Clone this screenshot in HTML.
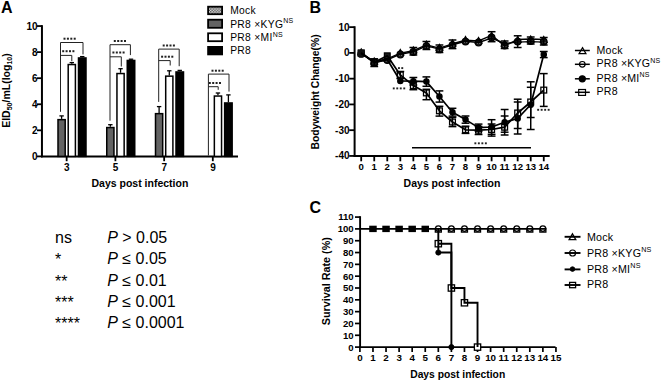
<!DOCTYPE html>
<html><head><meta charset="utf-8"><style>
html,body{margin:0;padding:0;background:#fff;overflow:hidden;}
svg{display:block;}
text{font-family:"Liberation Sans",sans-serif;fill:#000;}
</style></head><body>
<svg width="661" height="382" viewBox="0 0 661 382">
<text x="1" y="12.6" font-size="16" font-weight="bold">A</text>
<line x1="41.95" y1="25.15" x2="41.95" y2="157.3" stroke="#000" stroke-width="2"/>
<line x1="37" y1="156.4" x2="42" y2="156.4" stroke="#000" stroke-width="1.8"/>
<text x="37.5" y="159.9" font-size="10" font-weight="bold" text-anchor="end">0</text>
<line x1="37" y1="130.33" x2="42" y2="130.33" stroke="#000" stroke-width="1.8"/>
<text x="37.5" y="133.83" font-size="10" font-weight="bold" text-anchor="end">2</text>
<line x1="37" y1="104.26" x2="42" y2="104.26" stroke="#000" stroke-width="1.8"/>
<text x="37.5" y="107.76" font-size="10" font-weight="bold" text-anchor="end">4</text>
<line x1="37" y1="78.19" x2="42" y2="78.19" stroke="#000" stroke-width="1.8"/>
<text x="37.5" y="81.69" font-size="10" font-weight="bold" text-anchor="end">6</text>
<line x1="37" y1="52.12" x2="42" y2="52.12" stroke="#000" stroke-width="1.8"/>
<text x="37.5" y="55.62" font-size="10" font-weight="bold" text-anchor="end">8</text>
<line x1="37" y1="26.05" x2="42" y2="26.05" stroke="#000" stroke-width="1.8"/>
<text x="37.5" y="29.55" font-size="10" font-weight="bold" text-anchor="end">10</text>
<line x1="41.1" y1="156.4" x2="238" y2="156.4" stroke="#000" stroke-width="2"/>
<line x1="66.65" y1="156.4" x2="66.65" y2="161.2" stroke="#000" stroke-width="1.8"/>
<text x="66.85" y="170.9" font-size="10" font-weight="bold" text-anchor="middle">3</text>
<line x1="115.4" y1="156.4" x2="115.4" y2="161.2" stroke="#000" stroke-width="1.8"/>
<text x="115.6" y="170.9" font-size="10" font-weight="bold" text-anchor="middle">5</text>
<line x1="164.15" y1="156.4" x2="164.15" y2="161.2" stroke="#000" stroke-width="1.8"/>
<text x="164.35" y="170.9" font-size="10" font-weight="bold" text-anchor="middle">7</text>
<line x1="212.8" y1="156.4" x2="212.8" y2="161.2" stroke="#000" stroke-width="1.8"/>
<text x="213" y="170.9" font-size="10" font-weight="bold" text-anchor="middle">9</text>
<text x="139.9" y="186.7" font-size="10.5" font-weight="bold" text-anchor="middle">Days post infection</text>
<text transform="translate(9.6,127.8) rotate(-90)" font-size="10.5" font-weight="bold">EID<tspan font-size="7" dy="2.5">50</tspan><tspan dy="-2.5">/mL(log</tspan><tspan font-size="7" dy="2.5">10</tspan><tspan dy="-2.5">)</tspan></text>
<line x1="61.6" y1="118.9" x2="61.6" y2="115.9" stroke="#000" stroke-width="1.3"/>
<line x1="59.4" y1="115.9" x2="63.8" y2="115.9" stroke="#000" stroke-width="1.3"/>
<rect x="58" y="119.65" width="7.2" height="36.75" fill="#636363" stroke="#000" stroke-width="1.5"/>
<line x1="71.8" y1="63.8" x2="71.8" y2="62.6" stroke="#000" stroke-width="1.3"/>
<line x1="69.6" y1="62.6" x2="74" y2="62.6" stroke="#000" stroke-width="1.3"/>
<rect x="68.2" y="64.55" width="7.2" height="91.85" fill="#fff" stroke="#000" stroke-width="1.5"/>
<line x1="82.25" y1="57.2" x2="82.25" y2="56.6" stroke="#000" stroke-width="1.3"/>
<line x1="80.05" y1="56.6" x2="84.45" y2="56.6" stroke="#000" stroke-width="1.3"/>
<rect x="78.5" y="57.95" width="7.5" height="98.45" fill="#000" stroke="#000" stroke-width="1.5"/>
<line x1="110.35" y1="126.8" x2="110.35" y2="124.7" stroke="#000" stroke-width="1.3"/>
<line x1="108.15" y1="124.7" x2="112.55" y2="124.7" stroke="#000" stroke-width="1.3"/>
<rect x="106.75" y="127.55" width="7.2" height="28.85" fill="#636363" stroke="#000" stroke-width="1.5"/>
<line x1="120.55" y1="72.8" x2="120.55" y2="68.7" stroke="#000" stroke-width="1.3"/>
<line x1="118.35" y1="68.7" x2="122.75" y2="68.7" stroke="#000" stroke-width="1.3"/>
<rect x="116.95" y="73.55" width="7.2" height="82.85" fill="#fff" stroke="#000" stroke-width="1.5"/>
<line x1="131" y1="59.7" x2="131" y2="59.2" stroke="#000" stroke-width="1.3"/>
<line x1="128.8" y1="59.2" x2="133.2" y2="59.2" stroke="#000" stroke-width="1.3"/>
<rect x="127.25" y="60.45" width="7.5" height="95.95" fill="#000" stroke="#000" stroke-width="1.5"/>
<line x1="159.1" y1="112.9" x2="159.1" y2="106.6" stroke="#000" stroke-width="1.3"/>
<line x1="156.9" y1="106.6" x2="161.3" y2="106.6" stroke="#000" stroke-width="1.3"/>
<rect x="155.5" y="113.65" width="7.2" height="42.75" fill="#636363" stroke="#000" stroke-width="1.5"/>
<line x1="169.3" y1="75.4" x2="169.3" y2="70.8" stroke="#000" stroke-width="1.3"/>
<line x1="167.1" y1="70.8" x2="171.5" y2="70.8" stroke="#000" stroke-width="1.3"/>
<rect x="165.7" y="76.15" width="7.2" height="80.25" fill="#fff" stroke="#000" stroke-width="1.5"/>
<line x1="179.75" y1="71.2" x2="179.75" y2="70.4" stroke="#000" stroke-width="1.3"/>
<line x1="177.55" y1="70.4" x2="181.95" y2="70.4" stroke="#000" stroke-width="1.3"/>
<rect x="176" y="71.95" width="7.5" height="84.45" fill="#000" stroke="#000" stroke-width="1.5"/>
<line x1="217.95" y1="95.3" x2="217.95" y2="93" stroke="#000" stroke-width="1.3"/>
<line x1="215.75" y1="93" x2="220.15" y2="93" stroke="#000" stroke-width="1.3"/>
<rect x="214.35" y="96.05" width="7.2" height="60.35" fill="#fff" stroke="#000" stroke-width="1.5"/>
<line x1="228.4" y1="102.2" x2="228.4" y2="94.9" stroke="#000" stroke-width="1.3"/>
<line x1="226.2" y1="94.9" x2="230.6" y2="94.9" stroke="#000" stroke-width="1.3"/>
<rect x="224.65" y="102.95" width="7.5" height="53.45" fill="#000" stroke="#000" stroke-width="1.5"/>
<path d="M60.5 111.8V42.5H83V54.4M60.5 55.4H71.8V61.2" fill="none" stroke="#222" stroke-width="1"/>
<rect x="63.5" y="37.7" width="2" height="2" fill="#222"/>
<rect x="66.9" y="37.7" width="2" height="2" fill="#222"/>
<rect x="70.3" y="37.7" width="2" height="2" fill="#222"/>
<rect x="73.7" y="37.7" width="2" height="2" fill="#222"/>
<rect x="62.2" y="50.2" width="2" height="2" fill="#222"/>
<rect x="65.6" y="50.2" width="2" height="2" fill="#222"/>
<rect x="69" y="50.2" width="2" height="2" fill="#222"/>
<rect x="72.4" y="50.2" width="2" height="2" fill="#222"/>
<path d="M110 120.7V44.7H130.4V55.1M110 56.8H121.3V66.5" fill="none" stroke="#222" stroke-width="1"/>
<rect x="113.8" y="40" width="2" height="2" fill="#222"/>
<rect x="117.2" y="40" width="2" height="2" fill="#222"/>
<rect x="120.6" y="40" width="2" height="2" fill="#222"/>
<rect x="124" y="40" width="2" height="2" fill="#222"/>
<rect x="112.4" y="51.5" width="2" height="2" fill="#222"/>
<rect x="115.8" y="51.5" width="2" height="2" fill="#222"/>
<rect x="119.2" y="51.5" width="2" height="2" fill="#222"/>
<rect x="122.6" y="51.5" width="2" height="2" fill="#222"/>
<path d="M158.7 101.9V49.1H179.2V66.2M158.7 60.6H170.2V65.5" fill="none" stroke="#222" stroke-width="1"/>
<rect x="162.7" y="44.5" width="2" height="2" fill="#222"/>
<rect x="166.1" y="44.5" width="2" height="2" fill="#222"/>
<rect x="169.5" y="44.5" width="2" height="2" fill="#222"/>
<rect x="172.9" y="44.5" width="2" height="2" fill="#222"/>
<rect x="161.1" y="55.7" width="2" height="2" fill="#222"/>
<rect x="164.5" y="55.7" width="2" height="2" fill="#222"/>
<rect x="167.9" y="55.7" width="2" height="2" fill="#222"/>
<rect x="171.3" y="55.7" width="2" height="2" fill="#222"/>
<path d="M208.4 155.5V74.1H229V91.6M208.4 86.7H218.2V89.8" fill="none" stroke="#222" stroke-width="1"/>
<rect x="211.5" y="69.7" width="2" height="2" fill="#222"/>
<rect x="214.9" y="69.7" width="2" height="2" fill="#222"/>
<rect x="218.3" y="69.7" width="2" height="2" fill="#222"/>
<rect x="221.7" y="69.7" width="2" height="2" fill="#222"/>
<rect x="208.8" y="82" width="2" height="2" fill="#222"/>
<rect x="212.2" y="82" width="2" height="2" fill="#222"/>
<rect x="215.6" y="82" width="2" height="2" fill="#222"/>
<rect x="219" y="82" width="2" height="2" fill="#222"/>
<defs><pattern id="chk" width="2.8" height="2.8" patternUnits="userSpaceOnUse"><rect width="2.8" height="2.8" fill="#eee"/><rect width="1.4" height="1.4" fill="#444"/><rect x="1.4" y="1.4" width="1.4" height="1.4" fill="#444"/></pattern></defs>
<rect x="208.1" y="6.7" width="14" height="7.5" fill="url(#chk)" stroke="#000" stroke-width="1.8"/>
<text x="230.2" y="13.9" font-size="10.3" letter-spacing="0.3" fill="#1a1a1a">Mock</text>
<rect x="208.1" y="19.7" width="14" height="8.1" fill="#636363" stroke="#000" stroke-width="1.8"/>
<text x="230.2" y="27.5" font-size="10.3" letter-spacing="0.3" fill="#1a1a1a">PR8 ×KYG<tspan font-size="7" dy="-4.4">NS</tspan></text>
<rect x="208.1" y="33.3" width="14" height="7.9" fill="#fff" stroke="#000" stroke-width="1.8"/>
<text x="230.2" y="40.9" font-size="10.3" letter-spacing="0.3" fill="#1a1a1a">PR8 ×MI<tspan font-size="7" dy="-4.4">NS</tspan></text>
<rect x="208.1" y="46.9" width="14" height="7.5" fill="#000" stroke="#000" stroke-width="1.8"/>
<text x="230.2" y="54.1" font-size="10.3" letter-spacing="0.3" fill="#1a1a1a">PR8</text>
<text x="55" y="243.3" font-size="16">ns</text>
<text x="107.2" y="243.3" font-size="16"><tspan font-style="italic">P</tspan> &gt; 0.05</text>
<text x="55" y="265.2" font-size="16">*</text>
<text x="107.2" y="264.3" font-size="16"><tspan font-style="italic">P</tspan> ≤ 0.05</text>
<text x="55" y="287" font-size="16">**</text>
<text x="107.2" y="286.1" font-size="16"><tspan font-style="italic">P</tspan> ≤ 0.01</text>
<text x="55" y="307.9" font-size="16">***</text>
<text x="107.2" y="307" font-size="16"><tspan font-style="italic">P</tspan> ≤ 0.001</text>
<text x="55" y="329.3" font-size="16">****</text>
<text x="107.2" y="328.4" font-size="16"><tspan font-style="italic">P</tspan> ≤ 0.0001</text>
<text x="309.5" y="12.6" font-size="16" font-weight="bold">B</text>
<line x1="354.6" y1="26.24" x2="354.6" y2="156.84" stroke="#000" stroke-width="2"/>
<line x1="349.2" y1="27.14" x2="354.6" y2="27.14" stroke="#000" stroke-width="1.8"/>
<text x="349.5" y="30.64" font-size="10" font-weight="bold" text-anchor="end">10</text>
<line x1="349.2" y1="52.9" x2="354.6" y2="52.9" stroke="#000" stroke-width="1.8"/>
<text x="349.5" y="56.4" font-size="10" font-weight="bold" text-anchor="end">0</text>
<line x1="349.2" y1="78.66" x2="354.6" y2="78.66" stroke="#000" stroke-width="1.8"/>
<text x="349.5" y="82.16" font-size="10" font-weight="bold" text-anchor="end">-10</text>
<line x1="349.2" y1="104.42" x2="354.6" y2="104.42" stroke="#000" stroke-width="1.8"/>
<text x="349.5" y="107.92" font-size="10" font-weight="bold" text-anchor="end">-20</text>
<line x1="349.2" y1="130.18" x2="354.6" y2="130.18" stroke="#000" stroke-width="1.8"/>
<text x="349.5" y="133.68" font-size="10" font-weight="bold" text-anchor="end">-30</text>
<line x1="349.2" y1="155.94" x2="354.6" y2="155.94" stroke="#000" stroke-width="1.8"/>
<text x="349.5" y="159.44" font-size="10" font-weight="bold" text-anchor="end">-40</text>
<line x1="353.6" y1="155.94" x2="549.7" y2="155.94" stroke="#000" stroke-width="2"/>
<line x1="361.2" y1="155.94" x2="361.2" y2="161.3" stroke="#000" stroke-width="1.8"/>
<text x="361.2" y="170.4" font-size="9.6" font-weight="bold" text-anchor="middle">0</text>
<line x1="374.24" y1="155.94" x2="374.24" y2="161.3" stroke="#000" stroke-width="1.8"/>
<text x="374.24" y="170.4" font-size="9.6" font-weight="bold" text-anchor="middle">1</text>
<line x1="387.28" y1="155.94" x2="387.28" y2="161.3" stroke="#000" stroke-width="1.8"/>
<text x="387.28" y="170.4" font-size="9.6" font-weight="bold" text-anchor="middle">2</text>
<line x1="400.32" y1="155.94" x2="400.32" y2="161.3" stroke="#000" stroke-width="1.8"/>
<text x="400.32" y="170.4" font-size="9.6" font-weight="bold" text-anchor="middle">3</text>
<line x1="413.36" y1="155.94" x2="413.36" y2="161.3" stroke="#000" stroke-width="1.8"/>
<text x="413.36" y="170.4" font-size="9.6" font-weight="bold" text-anchor="middle">4</text>
<line x1="426.4" y1="155.94" x2="426.4" y2="161.3" stroke="#000" stroke-width="1.8"/>
<text x="426.4" y="170.4" font-size="9.6" font-weight="bold" text-anchor="middle">5</text>
<line x1="439.44" y1="155.94" x2="439.44" y2="161.3" stroke="#000" stroke-width="1.8"/>
<text x="439.44" y="170.4" font-size="9.6" font-weight="bold" text-anchor="middle">6</text>
<line x1="452.48" y1="155.94" x2="452.48" y2="161.3" stroke="#000" stroke-width="1.8"/>
<text x="452.48" y="170.4" font-size="9.6" font-weight="bold" text-anchor="middle">7</text>
<line x1="465.52" y1="155.94" x2="465.52" y2="161.3" stroke="#000" stroke-width="1.8"/>
<text x="465.52" y="170.4" font-size="9.6" font-weight="bold" text-anchor="middle">8</text>
<line x1="478.56" y1="155.94" x2="478.56" y2="161.3" stroke="#000" stroke-width="1.8"/>
<text x="478.56" y="170.4" font-size="9.6" font-weight="bold" text-anchor="middle">9</text>
<line x1="491.6" y1="155.94" x2="491.6" y2="161.3" stroke="#000" stroke-width="1.8"/>
<text x="491.6" y="170.4" font-size="9.6" font-weight="bold" text-anchor="middle">10</text>
<line x1="504.64" y1="155.94" x2="504.64" y2="161.3" stroke="#000" stroke-width="1.8"/>
<text x="504.64" y="170.4" font-size="9.6" font-weight="bold" text-anchor="middle">11</text>
<line x1="517.68" y1="155.94" x2="517.68" y2="161.3" stroke="#000" stroke-width="1.8"/>
<text x="517.68" y="170.4" font-size="9.6" font-weight="bold" text-anchor="middle">12</text>
<line x1="530.72" y1="155.94" x2="530.72" y2="161.3" stroke="#000" stroke-width="1.8"/>
<text x="530.72" y="170.4" font-size="9.6" font-weight="bold" text-anchor="middle">13</text>
<line x1="543.76" y1="155.94" x2="543.76" y2="161.3" stroke="#000" stroke-width="1.8"/>
<text x="543.76" y="170.4" font-size="9.6" font-weight="bold" text-anchor="middle">14</text>
<text x="452" y="186.8" font-size="10.5" font-weight="bold" text-anchor="middle">Days post infection</text>
<text transform="translate(319,149.4) rotate(-90)" font-size="10.3" font-weight="bold">Bodyweight Change(%)</text>
<line x1="412" y1="147.8" x2="531" y2="147.8" stroke="#000" stroke-width="1.6"/>
<rect x="474.4" y="142.35" width="1.9" height="1.9" fill="#222"/>
<rect x="477.9" y="142.35" width="1.9" height="1.9" fill="#222"/>
<rect x="481.4" y="142.35" width="1.9" height="1.9" fill="#222"/>
<rect x="484.9" y="142.35" width="1.9" height="1.9" fill="#222"/>
<rect x="398" y="67.15" width="1.9" height="1.9" fill="#222"/>
<rect x="401.3" y="67.15" width="1.9" height="1.9" fill="#222"/>
<rect x="392.8" y="87.45" width="1.9" height="1.9" fill="#222"/>
<rect x="396.3" y="87.45" width="1.9" height="1.9" fill="#222"/>
<rect x="399.8" y="87.45" width="1.9" height="1.9" fill="#222"/>
<rect x="403.3" y="87.45" width="1.9" height="1.9" fill="#222"/>
<rect x="537.2" y="108.85" width="1.9" height="1.9" fill="#222"/>
<rect x="540.7" y="108.85" width="1.9" height="1.9" fill="#222"/>
<rect x="544.2" y="108.85" width="1.9" height="1.9" fill="#222"/>
<rect x="547.7" y="108.85" width="1.9" height="1.9" fill="#222"/>
<circle cx="361.2" cy="53.1" r="2.6" fill="#000" stroke="#000" stroke-width="1.3"/>
<path d="M361.2 48.85L364.5 54.6H357.9Z" fill="#1a1a1a" stroke="#000" stroke-width="1.2"/>
<circle cx="361.2" cy="53.9" r="3.3" fill="#1a1a1a" stroke="#000" stroke-width="1.2"/>
<rect x="357.45" y="49.35" width="7.5" height="7.5" rx="0.6" fill="#111"/>
<circle cx="374.24" cy="62.3" r="2.6" fill="#000" stroke="#000" stroke-width="1.3"/>
<path d="M374.24 58.05L377.54 63.8H370.94Z" fill="#1a1a1a" stroke="#000" stroke-width="1.2"/>
<circle cx="374.24" cy="63.1" r="3.3" fill="#1a1a1a" stroke="#000" stroke-width="1.2"/>
<rect x="372.64" y="63.4" width="1.1" height="1.1" fill="#777"/><rect x="374.84" y="63.4" width="1.1" height="1.1" fill="#777"/>
<rect x="371.34" y="59.4" width="5.8" height="5.8" fill="#1a1a1a" stroke="#000" stroke-width="1.2"/>
<circle cx="387.28" cy="59.5" r="2.6" fill="#000" stroke="#000" stroke-width="1.3"/>
<path d="M387.28 55.05L390.58 60.8H383.98Z" fill="#1a1a1a" stroke="#000" stroke-width="1.2"/>
<circle cx="387.28" cy="60.1" r="3.3" fill="#1a1a1a" stroke="#000" stroke-width="1.2"/>
<rect x="385.68" y="60.4" width="1.1" height="1.1" fill="#777"/><rect x="387.88" y="60.4" width="1.1" height="1.1" fill="#777"/>
<rect x="384.38" y="52.9" width="5.8" height="5.8" fill="#1a1a1a" stroke="#000" stroke-width="1.2"/>
<rect x="397.42" y="72" width="5.8" height="5.8" fill="#fff" stroke="#000" stroke-width="1.3"/>
<circle cx="400.32" cy="81" r="2.6" fill="#000" stroke="#000" stroke-width="1.3"/>
<path d="M400.32 49.45L403.62 55.2H397.02Z" fill="#1a1a1a" stroke="#000" stroke-width="1.2"/>
<circle cx="400.32" cy="54.5" r="3.3" fill="#1a1a1a" stroke="#000" stroke-width="1.2"/>
<rect x="398.72" y="54.8" width="1.1" height="1.1" fill="#777"/><rect x="400.92" y="54.8" width="1.1" height="1.1" fill="#777"/>
<rect x="410.46" y="82.7" width="5.8" height="5.8" fill="#fff" stroke="#000" stroke-width="1.3"/>
<circle cx="413.36" cy="81.2" r="2.6" fill="#000" stroke="#000" stroke-width="1.3"/>
<path d="M413.36 46.95L416.66 52.7H410.06Z" fill="#1a1a1a" stroke="#000" stroke-width="1.2"/>
<circle cx="413.36" cy="52" r="3.3" fill="#1a1a1a" stroke="#000" stroke-width="1.2"/>
<rect x="411.76" y="52.3" width="1.1" height="1.1" fill="#777"/><rect x="413.96" y="52.3" width="1.1" height="1.1" fill="#777"/>
<rect x="423.5" y="90" width="5.8" height="5.8" fill="#fff" stroke="#000" stroke-width="1.3"/>
<circle cx="426.4" cy="81.6" r="2.6" fill="#000" stroke="#000" stroke-width="1.3"/>
<path d="M426.4 41.15L429.7 46.9H423.1Z" fill="#1a1a1a" stroke="#000" stroke-width="1.2"/>
<circle cx="426.4" cy="46.2" r="3.3" fill="#1a1a1a" stroke="#000" stroke-width="1.2"/>
<rect x="424.8" y="46.5" width="1.1" height="1.1" fill="#777"/><rect x="427" y="46.5" width="1.1" height="1.1" fill="#777"/>
<rect x="436.54" y="107.9" width="5.8" height="5.8" fill="#fff" stroke="#000" stroke-width="1.3"/>
<circle cx="439.44" cy="96.5" r="2.6" fill="#000" stroke="#000" stroke-width="1.3"/>
<path d="M439.44 44.35L442.74 50.1H436.14Z" fill="#1a1a1a" stroke="#000" stroke-width="1.2"/>
<circle cx="439.44" cy="49.4" r="3.3" fill="#1a1a1a" stroke="#000" stroke-width="1.2"/>
<rect x="437.84" y="49.7" width="1.1" height="1.1" fill="#777"/><rect x="440.04" y="49.7" width="1.1" height="1.1" fill="#777"/>
<rect x="449.58" y="119.1" width="5.8" height="5.8" fill="#fff" stroke="#000" stroke-width="1.3"/>
<circle cx="452.48" cy="112.2" r="2.6" fill="#000" stroke="#000" stroke-width="1.3"/>
<path d="M452.48 40.05L455.78 45.8H449.18Z" fill="#1a1a1a" stroke="#000" stroke-width="1.2"/>
<circle cx="452.48" cy="45.1" r="3.3" fill="#1a1a1a" stroke="#000" stroke-width="1.2"/>
<rect x="450.88" y="45.4" width="1.1" height="1.1" fill="#777"/><rect x="453.08" y="45.4" width="1.1" height="1.1" fill="#777"/>
<rect x="462.62" y="126.9" width="5.8" height="5.8" fill="#fff" stroke="#000" stroke-width="1.3"/>
<circle cx="465.52" cy="119.6" r="2.6" fill="#000" stroke="#000" stroke-width="1.3"/>
<path d="M465.52 36.55L468.82 42.3H462.22Z" fill="#1a1a1a" stroke="#000" stroke-width="1.2"/>
<circle cx="465.52" cy="41.6" r="3.3" fill="#1a1a1a" stroke="#000" stroke-width="1.2"/>
<rect x="463.92" y="41.9" width="1.1" height="1.1" fill="#777"/><rect x="466.12" y="41.9" width="1.1" height="1.1" fill="#777"/>
<rect x="475.66" y="127.3" width="5.8" height="5.8" fill="#fff" stroke="#000" stroke-width="1.3"/>
<circle cx="478.56" cy="127.6" r="2.6" fill="#000" stroke="#000" stroke-width="1.3"/>
<path d="M478.56 37.45L481.86 43.2H475.26Z" fill="#1a1a1a" stroke="#000" stroke-width="1.2"/>
<circle cx="478.56" cy="42.5" r="3.3" fill="#1a1a1a" stroke="#000" stroke-width="1.2"/>
<rect x="476.96" y="42.8" width="1.1" height="1.1" fill="#777"/><rect x="479.16" y="42.8" width="1.1" height="1.1" fill="#777"/>
<rect x="488.7" y="126.6" width="5.8" height="5.8" fill="#fff" stroke="#000" stroke-width="1.3"/>
<circle cx="491.6" cy="127" r="2.6" fill="#000" stroke="#000" stroke-width="1.3"/>
<path d="M491.6 32.45L494.9 38.2H488.3Z" fill="#1a1a1a" stroke="#000" stroke-width="1.2"/>
<circle cx="491.6" cy="37.5" r="3.3" fill="#1a1a1a" stroke="#000" stroke-width="1.2"/>
<rect x="490" y="37.8" width="1.1" height="1.1" fill="#777"/><rect x="492.2" y="37.8" width="1.1" height="1.1" fill="#777"/>
<rect x="501.74" y="124.3" width="5.8" height="5.8" fill="#fff" stroke="#000" stroke-width="1.3"/>
<circle cx="504.64" cy="122.2" r="2.6" fill="#000" stroke="#000" stroke-width="1.3"/>
<path d="M504.64 40.45L507.94 46.2H501.34Z" fill="#1a1a1a" stroke="#000" stroke-width="1.2"/>
<circle cx="504.64" cy="45.5" r="3.3" fill="#1a1a1a" stroke="#000" stroke-width="1.2"/>
<rect x="503.04" y="45.8" width="1.1" height="1.1" fill="#777"/><rect x="505.24" y="45.8" width="1.1" height="1.1" fill="#777"/>
<rect x="514.78" y="110.1" width="5.8" height="5.8" fill="#fff" stroke="#000" stroke-width="1.3"/>
<circle cx="517.68" cy="118.5" r="2.6" fill="#000" stroke="#000" stroke-width="1.3"/>
<path d="M517.68 36.55L520.98 42.3H514.38Z" fill="#1a1a1a" stroke="#000" stroke-width="1.2"/>
<circle cx="517.68" cy="41.6" r="3.3" fill="#1a1a1a" stroke="#000" stroke-width="1.2"/>
<rect x="516.08" y="41.9" width="1.1" height="1.1" fill="#777"/><rect x="518.28" y="41.9" width="1.1" height="1.1" fill="#777"/>
<rect x="527.82" y="99.1" width="5.8" height="5.8" fill="#fff" stroke="#000" stroke-width="1.3"/>
<circle cx="530.72" cy="104.7" r="2.6" fill="#000" stroke="#000" stroke-width="1.3"/>
<path d="M530.72 36.05L534.02 41.8H527.42Z" fill="#1a1a1a" stroke="#000" stroke-width="1.2"/>
<circle cx="530.72" cy="41.1" r="3.3" fill="#1a1a1a" stroke="#000" stroke-width="1.2"/>
<rect x="529.12" y="41.4" width="1.1" height="1.1" fill="#777"/><rect x="531.32" y="41.4" width="1.1" height="1.1" fill="#777"/>
<rect x="540.86" y="87.2" width="5.8" height="5.8" fill="#fff" stroke="#000" stroke-width="1.3"/>
<circle cx="543.76" cy="54.5" r="2.6" fill="#000" stroke="#000" stroke-width="1.3"/>
<path d="M543.76 36.55L547.06 42.3H540.46Z" fill="#1a1a1a" stroke="#000" stroke-width="1.2"/>
<circle cx="543.76" cy="41.6" r="3.3" fill="#1a1a1a" stroke="#000" stroke-width="1.2"/>
<rect x="542.16" y="41.9" width="1.1" height="1.1" fill="#777"/><rect x="544.36" y="41.9" width="1.1" height="1.1" fill="#777"/>
<polyline points="361.2,52.7 374.24,61.8 387.28,58.8 400.32,53.2 413.36,50.6 426.4,44.9 439.44,48.1 452.48,43.8 465.52,40.3 478.56,40.9 491.6,35.3 504.64,45.9 517.68,39.5 530.72,39 543.76,39.5" fill="none" stroke="#000" stroke-width="1.4" stroke-linejoin="round"/>
<polyline points="361.2,53.5 374.24,62.8 387.28,59.8 400.32,54.2 413.36,51.8 426.4,45.9 439.44,49.1 452.48,44.8 465.52,41.3 478.56,42.5 491.6,38.1 504.64,43.5 517.68,42.1 530.72,41.6 543.76,42.1" fill="none" stroke="#000" stroke-width="1.4" stroke-linejoin="round"/>
<polyline points="361.2,53.1 374.24,62.3 387.28,59.5 400.32,81 413.36,81.2 426.4,81.6 439.44,96.5 452.48,112.2 465.52,119.6 478.56,127.6 491.6,127 504.64,122.2 517.68,118.5 530.72,104.7 543.76,54.5" fill="none" stroke="#000" stroke-width="1.7" stroke-linejoin="round"/>
<polyline points="361.2,53.1 374.24,62.3 387.28,55.8 400.32,74.9 413.36,85.6 426.4,92.9 439.44,110.8 452.48,122 465.52,129.8 478.56,130.2 491.6,129.5 504.64,127.2 517.68,113 530.72,102 543.76,90.1" fill="none" stroke="#000" stroke-width="1.7" stroke-linejoin="round"/>
<line x1="400.32" y1="71.5" x2="400.32" y2="78.5" stroke="#000" stroke-width="1.5"/>
<line x1="396.42" y1="71.5" x2="404.22" y2="71.5" stroke="#000" stroke-width="1.5"/>
<line x1="396.42" y1="78.5" x2="404.22" y2="78.5" stroke="#000" stroke-width="1.5"/>
<line x1="413.36" y1="82" x2="413.36" y2="89.7" stroke="#000" stroke-width="1.5"/>
<line x1="409.46" y1="82" x2="417.26" y2="82" stroke="#000" stroke-width="1.5"/>
<line x1="409.46" y1="89.7" x2="417.26" y2="89.7" stroke="#000" stroke-width="1.5"/>
<line x1="426.4" y1="89.3" x2="426.4" y2="99.7" stroke="#000" stroke-width="1.5"/>
<line x1="422.5" y1="89.3" x2="430.3" y2="89.3" stroke="#000" stroke-width="1.5"/>
<line x1="422.5" y1="99.7" x2="430.3" y2="99.7" stroke="#000" stroke-width="1.5"/>
<line x1="439.44" y1="106.3" x2="439.44" y2="116.1" stroke="#000" stroke-width="1.5"/>
<line x1="435.54" y1="106.3" x2="443.34" y2="106.3" stroke="#000" stroke-width="1.5"/>
<line x1="435.54" y1="116.1" x2="443.34" y2="116.1" stroke="#000" stroke-width="1.5"/>
<line x1="452.48" y1="117.4" x2="452.48" y2="126.6" stroke="#000" stroke-width="1.5"/>
<line x1="448.58" y1="117.4" x2="456.38" y2="117.4" stroke="#000" stroke-width="1.5"/>
<line x1="448.58" y1="126.6" x2="456.38" y2="126.6" stroke="#000" stroke-width="1.5"/>
<line x1="465.52" y1="126.2" x2="465.52" y2="133.4" stroke="#000" stroke-width="1.5"/>
<line x1="461.62" y1="126.2" x2="469.42" y2="126.2" stroke="#000" stroke-width="1.5"/>
<line x1="461.62" y1="133.4" x2="469.42" y2="133.4" stroke="#000" stroke-width="1.5"/>
<line x1="478.56" y1="126.5" x2="478.56" y2="134.5" stroke="#000" stroke-width="1.5"/>
<line x1="474.66" y1="126.5" x2="482.46" y2="126.5" stroke="#000" stroke-width="1.5"/>
<line x1="474.66" y1="134.5" x2="482.46" y2="134.5" stroke="#000" stroke-width="1.5"/>
<line x1="491.6" y1="124" x2="491.6" y2="136.1" stroke="#000" stroke-width="1.5"/>
<line x1="487.7" y1="124" x2="495.5" y2="124" stroke="#000" stroke-width="1.5"/>
<line x1="487.7" y1="136.1" x2="495.5" y2="136.1" stroke="#000" stroke-width="1.5"/>
<line x1="504.64" y1="116" x2="504.64" y2="135" stroke="#000" stroke-width="1.5"/>
<line x1="500.74" y1="116" x2="508.54" y2="116" stroke="#000" stroke-width="1.5"/>
<line x1="500.74" y1="135" x2="508.54" y2="135" stroke="#000" stroke-width="1.5"/>
<line x1="517.68" y1="99.2" x2="517.68" y2="134" stroke="#000" stroke-width="1.5"/>
<line x1="513.78" y1="99.2" x2="521.58" y2="99.2" stroke="#000" stroke-width="1.5"/>
<line x1="513.78" y1="134" x2="521.58" y2="134" stroke="#000" stroke-width="1.5"/>
<line x1="530.72" y1="81.8" x2="530.72" y2="129.5" stroke="#000" stroke-width="1.5"/>
<line x1="526.82" y1="81.8" x2="534.62" y2="81.8" stroke="#000" stroke-width="1.5"/>
<line x1="526.82" y1="129.5" x2="534.62" y2="129.5" stroke="#000" stroke-width="1.5"/>
<line x1="543.76" y1="73.6" x2="543.76" y2="106.4" stroke="#000" stroke-width="1.5"/>
<line x1="539.86" y1="73.6" x2="547.66" y2="73.6" stroke="#000" stroke-width="1.5"/>
<line x1="539.86" y1="106.4" x2="547.66" y2="106.4" stroke="#000" stroke-width="1.5"/>
<line x1="413.36" y1="77.5" x2="413.36" y2="85" stroke="#000" stroke-width="1.5"/>
<line x1="409.46" y1="77.5" x2="417.26" y2="77.5" stroke="#000" stroke-width="1.5"/>
<line x1="409.46" y1="85" x2="417.26" y2="85" stroke="#000" stroke-width="1.5"/>
<line x1="426.4" y1="76.9" x2="426.4" y2="86.3" stroke="#000" stroke-width="1.5"/>
<line x1="422.5" y1="76.9" x2="430.3" y2="76.9" stroke="#000" stroke-width="1.5"/>
<line x1="422.5" y1="86.3" x2="430.3" y2="86.3" stroke="#000" stroke-width="1.5"/>
<line x1="439.44" y1="90.9" x2="439.44" y2="102.1" stroke="#000" stroke-width="1.5"/>
<line x1="435.54" y1="90.9" x2="443.34" y2="90.9" stroke="#000" stroke-width="1.5"/>
<line x1="435.54" y1="102.1" x2="443.34" y2="102.1" stroke="#000" stroke-width="1.5"/>
<line x1="452.48" y1="108.3" x2="452.48" y2="116.1" stroke="#000" stroke-width="1.5"/>
<line x1="448.58" y1="108.3" x2="456.38" y2="108.3" stroke="#000" stroke-width="1.5"/>
<line x1="448.58" y1="116.1" x2="456.38" y2="116.1" stroke="#000" stroke-width="1.5"/>
<line x1="465.52" y1="116" x2="465.52" y2="123.2" stroke="#000" stroke-width="1.5"/>
<line x1="461.62" y1="116" x2="469.42" y2="116" stroke="#000" stroke-width="1.5"/>
<line x1="461.62" y1="123.2" x2="469.42" y2="123.2" stroke="#000" stroke-width="1.5"/>
<line x1="478.56" y1="124.1" x2="478.56" y2="131.2" stroke="#000" stroke-width="1.5"/>
<line x1="474.66" y1="124.1" x2="482.46" y2="124.1" stroke="#000" stroke-width="1.5"/>
<line x1="474.66" y1="131.2" x2="482.46" y2="131.2" stroke="#000" stroke-width="1.5"/>
<line x1="491.6" y1="119.7" x2="491.6" y2="134.3" stroke="#000" stroke-width="1.5"/>
<line x1="487.7" y1="119.7" x2="495.5" y2="119.7" stroke="#000" stroke-width="1.5"/>
<line x1="487.7" y1="134.3" x2="495.5" y2="134.3" stroke="#000" stroke-width="1.5"/>
<line x1="504.64" y1="109.5" x2="504.64" y2="132.2" stroke="#000" stroke-width="1.5"/>
<line x1="500.74" y1="109.5" x2="508.54" y2="109.5" stroke="#000" stroke-width="1.5"/>
<line x1="500.74" y1="132.2" x2="508.54" y2="132.2" stroke="#000" stroke-width="1.5"/>
<line x1="517.68" y1="102" x2="517.68" y2="128.5" stroke="#000" stroke-width="1.5"/>
<line x1="513.78" y1="102" x2="521.58" y2="102" stroke="#000" stroke-width="1.5"/>
<line x1="513.78" y1="128.5" x2="521.58" y2="128.5" stroke="#000" stroke-width="1.5"/>
<line x1="530.72" y1="87.3" x2="530.72" y2="117.5" stroke="#000" stroke-width="1.5"/>
<line x1="526.82" y1="87.3" x2="534.62" y2="87.3" stroke="#000" stroke-width="1.5"/>
<line x1="526.82" y1="117.5" x2="534.62" y2="117.5" stroke="#000" stroke-width="1.5"/>
<line x1="543.76" y1="51.5" x2="543.76" y2="57.6" stroke="#000" stroke-width="1.5"/>
<line x1="539.86" y1="51.5" x2="547.66" y2="51.5" stroke="#000" stroke-width="1.5"/>
<line x1="539.86" y1="57.6" x2="547.66" y2="57.6" stroke="#000" stroke-width="1.5"/>
<line x1="374.24" y1="58.8" x2="374.24" y2="66.5" stroke="#000" stroke-width="1.5"/>
<line x1="370.34" y1="58.8" x2="378.14" y2="58.8" stroke="#000" stroke-width="1.5"/>
<line x1="370.34" y1="66.5" x2="378.14" y2="66.5" stroke="#000" stroke-width="1.5"/>
<line x1="413.36" y1="47.5" x2="413.36" y2="55" stroke="#000" stroke-width="1.5"/>
<line x1="409.46" y1="47.5" x2="417.26" y2="47.5" stroke="#000" stroke-width="1.5"/>
<line x1="409.46" y1="55" x2="417.26" y2="55" stroke="#000" stroke-width="1.5"/>
<line x1="426.4" y1="41.5" x2="426.4" y2="49.5" stroke="#000" stroke-width="1.5"/>
<line x1="422.5" y1="41.5" x2="430.3" y2="41.5" stroke="#000" stroke-width="1.5"/>
<line x1="422.5" y1="49.5" x2="430.3" y2="49.5" stroke="#000" stroke-width="1.5"/>
<line x1="439.44" y1="45" x2="439.44" y2="52.5" stroke="#000" stroke-width="1.5"/>
<line x1="435.54" y1="45" x2="443.34" y2="45" stroke="#000" stroke-width="1.5"/>
<line x1="435.54" y1="52.5" x2="443.34" y2="52.5" stroke="#000" stroke-width="1.5"/>
<line x1="452.48" y1="40" x2="452.48" y2="48.6" stroke="#000" stroke-width="1.5"/>
<line x1="448.58" y1="40" x2="456.38" y2="40" stroke="#000" stroke-width="1.5"/>
<line x1="448.58" y1="48.6" x2="456.38" y2="48.6" stroke="#000" stroke-width="1.5"/>
<line x1="491.6" y1="31.7" x2="491.6" y2="41.7" stroke="#000" stroke-width="1.5"/>
<line x1="487.7" y1="31.7" x2="495.5" y2="31.7" stroke="#000" stroke-width="1.5"/>
<line x1="487.7" y1="41.7" x2="495.5" y2="41.7" stroke="#000" stroke-width="1.5"/>
<line x1="504.64" y1="41" x2="504.64" y2="48.5" stroke="#000" stroke-width="1.5"/>
<line x1="500.74" y1="41" x2="508.54" y2="41" stroke="#000" stroke-width="1.5"/>
<line x1="500.74" y1="48.5" x2="508.54" y2="48.5" stroke="#000" stroke-width="1.5"/>
<line x1="517.68" y1="35.8" x2="517.68" y2="47.5" stroke="#000" stroke-width="1.5"/>
<line x1="513.78" y1="35.8" x2="521.58" y2="35.8" stroke="#000" stroke-width="1.5"/>
<line x1="513.78" y1="47.5" x2="521.58" y2="47.5" stroke="#000" stroke-width="1.5"/>
<line x1="530.72" y1="37" x2="530.72" y2="44" stroke="#000" stroke-width="1.5"/>
<line x1="526.82" y1="37" x2="534.62" y2="37" stroke="#000" stroke-width="1.5"/>
<line x1="526.82" y1="44" x2="534.62" y2="44" stroke="#000" stroke-width="1.5"/>
<line x1="543.76" y1="37.5" x2="543.76" y2="45" stroke="#000" stroke-width="1.5"/>
<line x1="539.86" y1="37.5" x2="547.66" y2="37.5" stroke="#000" stroke-width="1.5"/>
<line x1="539.86" y1="45" x2="547.66" y2="45" stroke="#000" stroke-width="1.5"/>
<path d="M582.5 47.6L585.95 53.6H579.05Z" fill="#fff" stroke="#000" stroke-width="1.2"/>
<line x1="574.9" y1="50.5" x2="589.8" y2="50.5" stroke="#000" stroke-width="1.5"/>
<text x="596.6" y="53.6" font-size="10.6" letter-spacing="0.2" fill="#1a1a1a">Mock</text>
<circle cx="582.3" cy="64.3" r="2.8" fill="#fff" stroke="#000" stroke-width="1.2"/>
<line x1="574.9" y1="64.3" x2="589.8" y2="64.3" stroke="#000" stroke-width="1.5"/>
<text x="596.6" y="67.4" font-size="10.6" letter-spacing="0.2" fill="#1a1a1a">PR8 ×KYG<tspan font-size="7" dy="-4.5">NS</tspan></text>
<circle cx="582.3" cy="78.8" r="3" fill="#000" stroke="#000" stroke-width="1.3"/>
<line x1="574.9" y1="78.8" x2="589.8" y2="78.8" stroke="#000" stroke-width="1.5"/>
<text x="596.6" y="81.9" font-size="10.6" letter-spacing="0.2" fill="#1a1a1a">PR8 ×MI<tspan font-size="7" dy="-4.5">NS</tspan></text>
<rect x="578.7" y="89.5" width="6.8" height="5.9" fill="#fff" stroke="#000" stroke-width="1.2"/>
<line x1="574.9" y1="92.3" x2="589.8" y2="92.3" stroke="#000" stroke-width="1.5"/>
<text x="596.6" y="95.4" font-size="10.6" letter-spacing="0.2" fill="#1a1a1a">PR8</text>
<text x="309.4" y="213.2" font-size="16" font-weight="bold">C</text>
<line x1="360.1" y1="216.18" x2="360.1" y2="348" stroke="#000" stroke-width="1.9"/>
<line x1="355" y1="347.1" x2="360.1" y2="347.1" stroke="#000" stroke-width="1.7"/>
<text x="353.7" y="350.5" font-size="9.6" font-weight="bold" text-anchor="end">0</text>
<line x1="355" y1="335.28" x2="360.1" y2="335.28" stroke="#000" stroke-width="1.7"/>
<text x="353.7" y="338.68" font-size="9.6" font-weight="bold" text-anchor="end">10</text>
<line x1="355" y1="323.46" x2="360.1" y2="323.46" stroke="#000" stroke-width="1.7"/>
<text x="353.7" y="326.86" font-size="9.6" font-weight="bold" text-anchor="end">20</text>
<line x1="355" y1="311.64" x2="360.1" y2="311.64" stroke="#000" stroke-width="1.7"/>
<text x="353.7" y="315.04" font-size="9.6" font-weight="bold" text-anchor="end">30</text>
<line x1="355" y1="299.82" x2="360.1" y2="299.82" stroke="#000" stroke-width="1.7"/>
<text x="353.7" y="303.22" font-size="9.6" font-weight="bold" text-anchor="end">40</text>
<line x1="355" y1="288" x2="360.1" y2="288" stroke="#000" stroke-width="1.7"/>
<text x="353.7" y="291.4" font-size="9.6" font-weight="bold" text-anchor="end">50</text>
<line x1="355" y1="276.18" x2="360.1" y2="276.18" stroke="#000" stroke-width="1.7"/>
<text x="353.7" y="279.58" font-size="9.6" font-weight="bold" text-anchor="end">60</text>
<line x1="355" y1="264.36" x2="360.1" y2="264.36" stroke="#000" stroke-width="1.7"/>
<text x="353.7" y="267.76" font-size="9.6" font-weight="bold" text-anchor="end">70</text>
<line x1="355" y1="252.54" x2="360.1" y2="252.54" stroke="#000" stroke-width="1.7"/>
<text x="353.7" y="255.94" font-size="9.6" font-weight="bold" text-anchor="end">80</text>
<line x1="355" y1="240.72" x2="360.1" y2="240.72" stroke="#000" stroke-width="1.7"/>
<text x="353.7" y="244.12" font-size="9.6" font-weight="bold" text-anchor="end">90</text>
<line x1="355" y1="228.9" x2="360.1" y2="228.9" stroke="#000" stroke-width="1.7"/>
<text x="353.7" y="232.3" font-size="9.6" font-weight="bold" text-anchor="end">100</text>
<line x1="355" y1="217.08" x2="360.1" y2="217.08" stroke="#000" stroke-width="1.7"/>
<text x="353.7" y="220.48" font-size="9.6" font-weight="bold" text-anchor="end">110</text>
<line x1="359.2" y1="347.1" x2="555.5" y2="347.1" stroke="#000" stroke-width="1.9"/>
<line x1="359.9" y1="347.1" x2="359.9" y2="352" stroke="#000" stroke-width="1.7"/>
<text x="359.9" y="360.8" font-size="9.8" font-weight="bold" text-anchor="middle">0</text>
<line x1="372.97" y1="347.1" x2="372.97" y2="352" stroke="#000" stroke-width="1.7"/>
<text x="372.97" y="360.8" font-size="9.8" font-weight="bold" text-anchor="middle">1</text>
<line x1="386.04" y1="347.1" x2="386.04" y2="352" stroke="#000" stroke-width="1.7"/>
<text x="386.04" y="360.8" font-size="9.8" font-weight="bold" text-anchor="middle">2</text>
<line x1="399.11" y1="347.1" x2="399.11" y2="352" stroke="#000" stroke-width="1.7"/>
<text x="399.11" y="360.8" font-size="9.8" font-weight="bold" text-anchor="middle">3</text>
<line x1="412.18" y1="347.1" x2="412.18" y2="352" stroke="#000" stroke-width="1.7"/>
<text x="412.18" y="360.8" font-size="9.8" font-weight="bold" text-anchor="middle">4</text>
<line x1="425.25" y1="347.1" x2="425.25" y2="352" stroke="#000" stroke-width="1.7"/>
<text x="425.25" y="360.8" font-size="9.8" font-weight="bold" text-anchor="middle">5</text>
<line x1="438.32" y1="347.1" x2="438.32" y2="352" stroke="#000" stroke-width="1.7"/>
<text x="438.32" y="360.8" font-size="9.8" font-weight="bold" text-anchor="middle">6</text>
<line x1="451.39" y1="347.1" x2="451.39" y2="352" stroke="#000" stroke-width="1.7"/>
<text x="451.39" y="360.8" font-size="9.8" font-weight="bold" text-anchor="middle">7</text>
<line x1="464.46" y1="347.1" x2="464.46" y2="352" stroke="#000" stroke-width="1.7"/>
<text x="464.46" y="360.8" font-size="9.8" font-weight="bold" text-anchor="middle">8</text>
<line x1="477.53" y1="347.1" x2="477.53" y2="352" stroke="#000" stroke-width="1.7"/>
<text x="477.53" y="360.8" font-size="9.8" font-weight="bold" text-anchor="middle">9</text>
<line x1="490.6" y1="347.1" x2="490.6" y2="352" stroke="#000" stroke-width="1.7"/>
<text x="490.6" y="360.8" font-size="9.8" font-weight="bold" text-anchor="middle">10</text>
<line x1="503.67" y1="347.1" x2="503.67" y2="352" stroke="#000" stroke-width="1.7"/>
<text x="503.67" y="360.8" font-size="9.8" font-weight="bold" text-anchor="middle">11</text>
<line x1="516.74" y1="347.1" x2="516.74" y2="352" stroke="#000" stroke-width="1.7"/>
<text x="516.74" y="360.8" font-size="9.8" font-weight="bold" text-anchor="middle">12</text>
<line x1="529.81" y1="347.1" x2="529.81" y2="352" stroke="#000" stroke-width="1.7"/>
<text x="529.81" y="360.8" font-size="9.8" font-weight="bold" text-anchor="middle">13</text>
<line x1="542.88" y1="347.1" x2="542.88" y2="352" stroke="#000" stroke-width="1.7"/>
<text x="542.88" y="360.8" font-size="9.8" font-weight="bold" text-anchor="middle">14</text>
<line x1="555.95" y1="347.1" x2="555.95" y2="352" stroke="#000" stroke-width="1.7"/>
<text x="555.95" y="360.8" font-size="9.8" font-weight="bold" text-anchor="middle">15</text>
<text x="457.7" y="378.2" font-size="10.3" font-weight="bold" text-anchor="middle">Days post infection</text>
<text transform="translate(329.9,325.3) rotate(-90)" font-size="10.8" font-weight="bold">Survival Rate (%)</text>
<rect x="369.22" y="225.7" width="7.5" height="6.4" fill="#000"/>
<rect x="382.29" y="225.7" width="7.5" height="6.4" fill="#000"/>
<rect x="395.36" y="225.7" width="7.5" height="6.4" fill="#000"/>
<rect x="408.43" y="225.7" width="7.5" height="6.4" fill="#000"/>
<rect x="421.5" y="225.7" width="7.5" height="6.4" fill="#000"/>
<rect x="435.32" y="228.4" width="6" height="3.7" fill="#fff" stroke="#000" stroke-width="1.3"/>
<circle cx="438.32" cy="228.6" r="2.8" fill="#fff" stroke="#000" stroke-width="1.3"/>
<rect x="448.39" y="228.4" width="6" height="3.7" fill="#fff" stroke="#000" stroke-width="1.3"/>
<circle cx="451.39" cy="228.6" r="2.8" fill="#fff" stroke="#000" stroke-width="1.3"/>
<rect x="461.46" y="228.4" width="6" height="3.7" fill="#fff" stroke="#000" stroke-width="1.3"/>
<circle cx="464.46" cy="228.6" r="2.8" fill="#fff" stroke="#000" stroke-width="1.3"/>
<rect x="474.53" y="228.4" width="6" height="3.7" fill="#fff" stroke="#000" stroke-width="1.3"/>
<circle cx="477.53" cy="228.6" r="2.8" fill="#fff" stroke="#000" stroke-width="1.3"/>
<rect x="487.6" y="228.4" width="6" height="3.7" fill="#fff" stroke="#000" stroke-width="1.3"/>
<circle cx="490.6" cy="228.6" r="2.8" fill="#fff" stroke="#000" stroke-width="1.3"/>
<rect x="500.67" y="228.4" width="6" height="3.7" fill="#fff" stroke="#000" stroke-width="1.3"/>
<circle cx="503.67" cy="228.6" r="2.8" fill="#fff" stroke="#000" stroke-width="1.3"/>
<rect x="513.74" y="228.4" width="6" height="3.7" fill="#fff" stroke="#000" stroke-width="1.3"/>
<circle cx="516.74" cy="228.6" r="2.8" fill="#fff" stroke="#000" stroke-width="1.3"/>
<rect x="526.81" y="228.4" width="6" height="3.7" fill="#fff" stroke="#000" stroke-width="1.3"/>
<circle cx="529.81" cy="228.6" r="2.8" fill="#fff" stroke="#000" stroke-width="1.3"/>
<rect x="539.88" y="228.4" width="6" height="3.7" fill="#fff" stroke="#000" stroke-width="1.3"/>
<circle cx="542.88" cy="228.6" r="2.8" fill="#fff" stroke="#000" stroke-width="1.3"/>
<rect x="435.17" y="240.53" width="6.3" height="6.3" fill="#fff" stroke="#000" stroke-width="1.3"/>
<rect x="448.24" y="284.85" width="6.3" height="6.3" fill="#fff" stroke="#000" stroke-width="1.3"/>
<rect x="461.31" y="299.63" width="6.3" height="6.3" fill="#fff" stroke="#000" stroke-width="1.3"/>
<rect x="474.38" y="343.95" width="6.3" height="6.3" fill="#fff" stroke="#000" stroke-width="1.3"/>
<circle cx="438.32" cy="252.54" r="2.6" fill="#000" stroke="#000" stroke-width="0.8"/>
<circle cx="451.39" cy="347.1" r="2.6" fill="#000" stroke="#000" stroke-width="0.8"/>
<path d="M359.9 228.9H545.38" fill="none" stroke="#000" stroke-width="1.9"/>
<path d="M438.32 228.9V252.54H451.39V347.1" fill="none" stroke="#000" stroke-width="1.9"/>
<path d="M438.32 243.68H451.39V288H464.46V302.78H477.53V347.1" fill="none" stroke="#000" stroke-width="1.9"/>
<path d="M572.45 233.85L575.75 239.6H569.15Z" fill="#fff" stroke="#000" stroke-width="1.3"/>
<line x1="564.6" y1="236.8" x2="580.5" y2="236.8" stroke="#000" stroke-width="1.9"/>
<text x="587" y="240.8" font-size="10.7" letter-spacing="0.2" fill="#1a1a1a">Mock</text>
<circle cx="572.6" cy="253" r="3" fill="#fff" stroke="#000" stroke-width="1.2"/>
<line x1="564.6" y1="253" x2="580.5" y2="253" stroke="#000" stroke-width="1.9"/>
<text x="587" y="256.6" font-size="10.7" letter-spacing="0.2" fill="#1a1a1a">PR8 ×KYG<tspan font-size="7.2" dy="-4.7">NS</tspan></text>
<circle cx="572.5" cy="269.1" r="2.3" fill="#000" stroke="#000" stroke-width="0.9"/>
<line x1="564.6" y1="269.4" x2="580.5" y2="269.4" stroke="#000" stroke-width="1.9"/>
<text x="587" y="272.6" font-size="10.7" letter-spacing="0.2" fill="#1a1a1a">PR8 ×MI<tspan font-size="7.2" dy="-4.7">NS</tspan></text>
<rect x="569.6" y="282.4" width="6.0" height="5.3" fill="#fff" stroke="#000" stroke-width="1.3"/>
<line x1="564.6" y1="285" x2="580.5" y2="285" stroke="#000" stroke-width="1.9"/>
<text x="587" y="288.2" font-size="10.7" letter-spacing="0.2" fill="#1a1a1a">PR8</text>
</svg></body></html>
